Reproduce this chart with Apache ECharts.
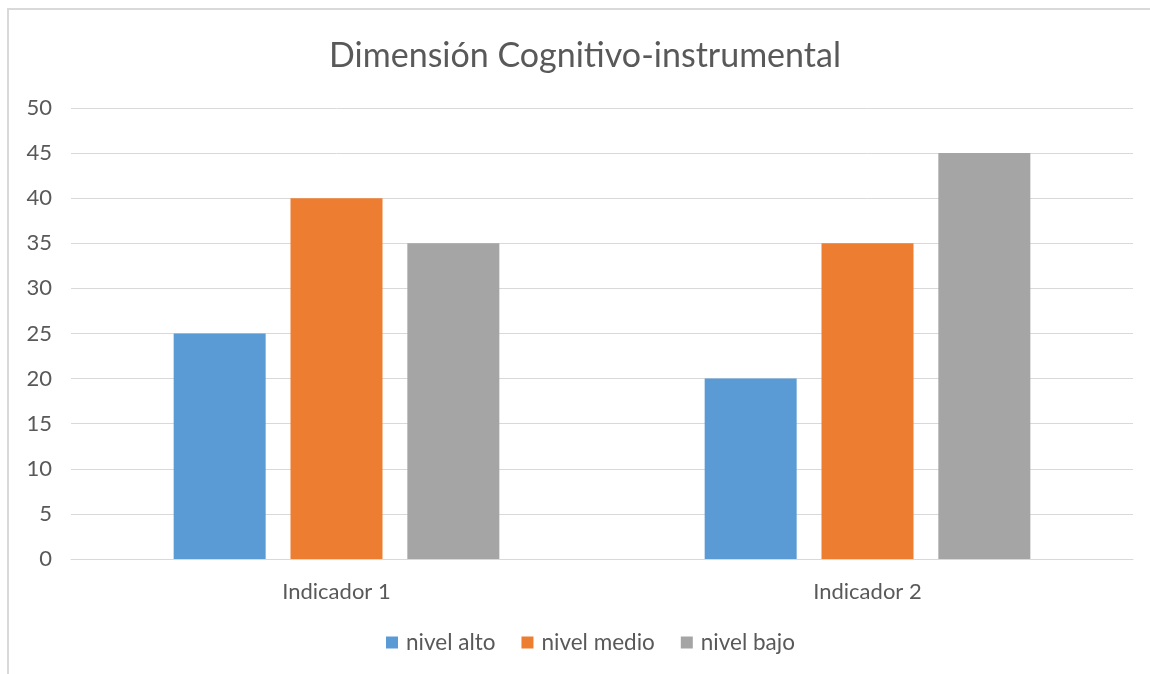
<!DOCTYPE html>
<html><head><meta charset="utf-8">
<script src="https://cdn.jsdelivr.net/npm/echarts@6/dist/echarts.min.js"></script>
<style>html,body{margin:0;padding:0;background:#fff}#c{width:1150px;height:674px}</style>
</head><body><div id="c"></div>
<script>
const categories = ['Indicador 1', 'Indicador 2'];
const seriesNames = ['nivel alto', 'nivel medio', 'nivel bajo'];
const nivelAlto = [25, 20];
const nivelMedio = [40, 35];
const nivelBajo = [35, 45];
const colors = ['#5B9BD5', '#ED7D31', '#A5A5A5'];
const font = 'Lato, "Open Sans", sans-serif';
const chart = echarts.init(document.getElementById('c'), null, {renderer: 'canvas'});
const values = [nivelAlto, nivelMedio, nivelBajo];
chart.setOption({
  animation: false,
  color: colors,
  title: {
    text: 'Dimensión Cognitivo-instrumental',
    left: 580, top: 34, textAlign: 'center',
    textStyle: {fontFamily: font, fontSize: 34, fontWeight: 'normal', color: '#595959'}
  },
  legend: {
    data: seriesNames, bottom: 15, left: 381,
    itemWidth: 12, itemHeight: 12, itemGap: 26,
    icon: 'rect',
    textStyle: {fontFamily: font, fontSize: 22.5, color: '#595959', padding: [0, 0, 0, 3]}
  },
  grid: {left: 71, right: 17, top: 108, bottom: 115, containLabel: false},
  xAxis: {
    type: 'category', data: categories,
    axisLine: {lineStyle: {color: '#d9d9d9'}},
    axisTick: {show: false},
    axisLabel: {fontFamily: font, fontSize: 22, color: '#595959', margin: 22}
  },
  yAxis: {
    type: 'value', min: 0, max: 50, interval: 5,
    axisLine: {show: false}, axisTick: {show: false},
    splitLine: {lineStyle: {color: '#d9d9d9'}},
    axisLabel: {fontFamily: font, fontSize: 22, color: '#595959', margin: 19}
  },
  graphic: [{
    type: 'polyline', silent: true,
    shape: {points: [[8, 674], [8, 9], [1150, 9]]},
    style: {stroke: '#d9d9d9', lineWidth: 2, fill: null}
  }],
  series: seriesNames.map((n, i) => ({
    name: n, type: 'bar', data: values[i],
    barWidth: 92, barGap: '27%'
  }))
});
</script></body></html>
